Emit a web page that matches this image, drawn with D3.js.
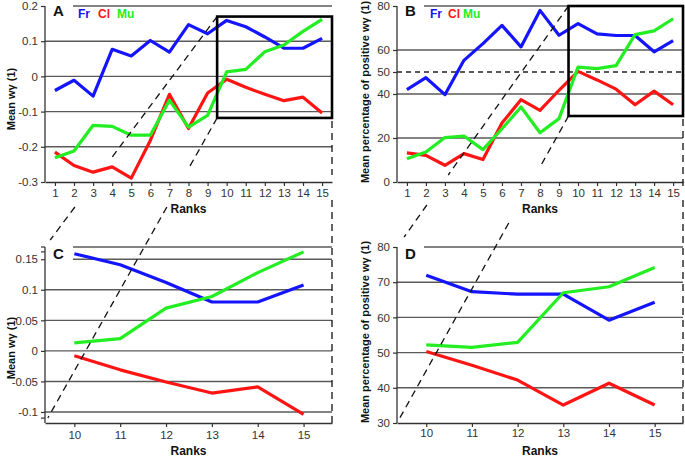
<!DOCTYPE html>
<html><head><meta charset="utf-8">
<script src="https://cdn.jsdelivr.net/npm/d3@7"></script>
<style>
body{margin:0;background:#fff}
text{font-family:"Liberation Sans",Arial,Helvetica,sans-serif}
</style>
</head><body>
<svg id="chart" width="685" height="459"></svg>
<script>
// ---------- data ----------
const ranks = [1,2,3,4,5,6,7,8,9,10,11,12,13,14,15];
const zoomFrom = 10;
const seriesNames = ["Fr","Cl","Mu"];
const seriesColors = ["#1414ff","#ff1414","#22ee22"];

const meanFr = [-0.040,-0.011,-0.056,0.077,0.058,0.102,0.069,0.147,0.121,0.159,0.141,0.112,0.080,0.080,0.108];
const meanCl = [-0.215,-0.253,-0.272,-0.257,-0.289,-0.182,-0.051,-0.148,-0.047,-0.008,-0.031,-0.051,-0.069,-0.059,-0.104];
const meanMu = [-0.231,-0.212,-0.139,-0.142,-0.167,-0.167,-0.068,-0.144,-0.111,0.013,0.020,0.070,0.089,0.128,0.162];

const pctFr = [42.0,47.4,39.7,55.3,62.9,71.2,61.4,78.0,66.7,72.0,67.3,66.6,66.6,59.2,64.3];
const pctCl = [13.2,12.1,7.6,12.9,10.2,26.8,37.4,32.6,41.7,50.3,46.4,42.2,35.1,41.3,35.1];
const pctMu = [10.6,13.6,20.2,20.9,14.7,24.2,34.1,22.4,28.8,52.2,51.5,52.9,67.0,68.7,74.2];

const ticksA = [-0.3,-0.2,-0.1,0,0.1,0.2];
const gridA  = [-0.2,-0.1,0,0.1];
const ticksB = [0,20,40,50,60,80];
const gridB  = [20,40,60];
const dashB  = [50];
const ticksC = [-0.1,-0.05,0,0.05,0.1,0.15];
const gridC  = [-0.1,-0.05,0,0.05,0.1];
const ticksD = [30,40,50,60,70,80];
const gridD  = [40,50,60,70];
const zoomRanks = ranks.filter(r => r >= zoomFrom);

const titleMean = "Mean wγ (1)";
const titlePct = "Mean percentage of positive wγ (1)";

// ---------- layout ----------
const svg = d3.select("#chart");
const FONT = '"Liberation Sans",Arial,Helvetica,sans-serif';

function panel(cfg){
  const g = svg.append("g");
  const x = d3.scaleLinear().domain(cfg.xDomain).range(cfg.xRange);
  const y = d3.scaleLinear().domain(cfg.yDomain).range(cfg.yRange);
  const [x0,x1] = cfg.xRange, [yb,yt] = cfg.yRange;

  g.selectAll(".grid").data(cfg.grid).join("line")
    .attr("x1",x0).attr("x2",x1).attr("y1",d=>y(d)).attr("y2",d=>y(d))
    .attr("stroke","#5a5a5a").attr("stroke-width",1.4);
  g.selectAll(".dgrid").data(cfg.dashGrid||[]).join("line")
    .attr("x1",x0).attr("x2",x1).attr("y1",d=>y(d)).attr("y2",d=>y(d))
    .attr("stroke","#222").attr("stroke-width",1.3).attr("stroke-dasharray","5,4");
  g.append("line").attr("x1",cfg.topLineStart).attr("x2",x1)
    .attr("y1",yt).attr("y2",yt).attr("stroke","#5a5a5a").attr("stroke-width",1.4);
  (cfg.extraTopLines||[]).forEach(v=>{
    g.append("line").attr("x1",cfg.topLineStart).attr("x2",x1)
      .attr("y1",y(v)).attr("y2",y(v)).attr("stroke","#5a5a5a").attr("stroke-width",1.4);
  });

  const ax = d3.axisLeft(y).tickValues(cfg.yTicks).tickSize(4).tickSizeOuter(0).tickPadding(3)
    .tickFormat(d=>String(d));
  const ya = g.append("g").attr("transform",`translate(${x0},0)`).call(ax);
  const bx = d3.axisBottom(x).tickValues(cfg.xTicks).tickSize(4).tickSizeOuter(0).tickPadding(cfg.xPad)
    .tickFormat(d=>String(d));
  const xa = g.append("g").attr("transform",`translate(0,${yb})`).call(bx);
  [ya,xa].forEach(a=>{
    a.select(".domain").attr("stroke","#333").attr("stroke-width",1.3);
    a.selectAll(".tick line").attr("stroke","#333").attr("stroke-width",1.2);
    a.selectAll("text").attr("fill","#333").style("font-family",FONT).style("font-size","11.5px");
  });
  ya.select(".domain").attr("d",`M0,${yb}V${yt}`);
  (cfg.extraTicks||[]).forEach(v=>{
    g.append("line").attr("x1",x0-4).attr("x2",x0).attr("y1",y(v)).attr("y2",y(v))
      .attr("stroke","#333").attr("stroke-width",1.2);
  });

  const line = d3.line().x(d=>x(d[0])).y(d=>y(d[1]));
  cfg.series.forEach((s,i)=>{
    const pts = cfg.xs.map((r,j)=>[r,s[j]]);
    g.append("path").attr("d",line(pts)).attr("fill","none")
      .attr("stroke",seriesColors[i]).attr("stroke-width",3.2)
      .attr("stroke-linejoin","round").attr("stroke-linecap","butt");
  });

  g.append("text").attr("x",x0+8).attr("y",yt+cfg.letterDy).text(cfg.letter)
    .style("font-family",FONT).style("font-size","15px").style("font-weight","bold").attr("fill","#111");
  if(cfg.legend){
    seriesNames.forEach((n,i)=>{
      g.append("text").attr("x",x0+cfg.legendX[i]).attr("y",yt+12).text(n)
        .style("font-family",FONT).style("font-size","12px").style("font-weight","bold")
        .attr("fill",seriesColors[i]);
    });
  }
  g.append("text").attr("text-anchor","middle")
    .attr("transform",`translate(${(x0+x1)/2},${yb+cfg.ranksDy})`).text("Ranks")
    .style("font-family",FONT).style("font-size","12px").style("font-weight","bold").attr("fill","#111");
  g.append("text").attr("text-anchor","middle")
    .attr("transform",`translate(${cfg.titleX},${cfg.titleY}) rotate(-90)`).text(cfg.title)
    .style("font-family",FONT).style("font-size","11px").style("font-weight","bold").attr("fill","#111");
  return {x,y};
}

const A = panel({xDomain:[0.48,15.52], xRange:[45,332], yDomain:[-0.3,0.2], yRange:[182,6],
  grid:gridA, yTicks:ticksA, xTicks:ranks, xs:ranks, series:[meanFr,meanCl,meanMu],
  topLineStart:73, letter:"A", letterDy:10, legend:true, legendX:[33,53,72], xPad:3,
  ranksDy:31, title:titleMean, titleX:15, titleY:99});
const B = panel({xDomain:[0.48,15.52], xRange:[397,683], yDomain:[0,80], yRange:[182,6],
  grid:gridB, dashGrid:dashB, yTicks:ticksB, xTicks:ranks, xs:ranks, series:[pctFr,pctCl,pctMu],
  topLineStart:424, letter:"B", letterDy:10, legend:true, legendX:[33,51,66], xPad:3,
  ranksDy:31, title:titlePct, titleX:369, titleY:92});
const slice = arr => arr.slice(ranks.indexOf(zoomFrom));
const C = panel({xDomain:[9.36,15.62], xRange:[45,332], yDomain:[-0.118,0.17], yRange:[423,247],
  grid:gridC, yTicks:ticksC, xTicks:zoomRanks, xs:zoomRanks,
  series:[slice(meanFr),slice(meanCl),slice(meanMu)], extraTopLines:[0.15], extraTicks:[0.17,0.162,-0.11],
  topLineStart:73, letter:"C", letterDy:12, legend:false, xPad:4,
  ranksDy:32, title:titleMean, titleX:15, titleY:348});
const D = panel({xDomain:[9.36,15.62], xRange:[397,683], yDomain:[30,80], yRange:[423,247],
  grid:gridD, yTicks:ticksD, xTicks:zoomRanks, xs:zoomRanks,
  series:[slice(pctFr),slice(pctCl),slice(pctMu)],
  topLineStart:424, letter:"D", letterDy:12, legend:false, xPad:2,
  ranksDy:32, title:titlePct, titleX:369, titleY:332});

// ---------- zoom boxes and connectors ----------
function zoomBox(P, Z, yLo, yHi, seg1, seg2, vseg){
  const bx0 = P.x(9.5), bx1 = P.x.range()[1];
  const by0 = P.y(yHi), by1 = P.y(yLo);
  const zx0 = Z.x.range()[0], zyTop = Z.y.range()[1], zyBot = Z.y.range()[0];
  const dash = g => g.attr("stroke","#111").attr("stroke-width",1.3).attr("stroke-dasharray","7,5").attr("fill","none");
  const pieces = (p0,p1,wins) => wins.forEach(([ya,yb])=>{
    const t = yy => (yy-p0[1])/(p1[1]-p0[1]);
    const xa = p0[0]+(p1[0]-p0[0])*t(ya), xb = p0[0]+(p1[0]-p0[0])*t(yb);
    svg.append("line").attr("x1",xa).attr("y1",ya).attr("x2",xb).attr("y2",yb).call(dash);
  });
  pieces([bx0,by0],[zx0,zyTop],seg1);
  pieces([bx0,by1],[zx0,zyBot],seg2);
  vseg.forEach(([ya,yb])=>{
    svg.append("line").attr("x1",bx1).attr("x2",bx1).attr("y1",ya).attr("y2",yb).call(dash);
  });
  svg.append("rect").attr("x",bx0).attr("y",by0).attr("width",bx1-bx0).attr("height",by1-by0)
    .attr("fill","none").attr("stroke","#000").attr("stroke-width",2.6);
}
zoomBox(A, C, -0.118, 0.17, [[16.6,158],[207,240]], [[118,170],[207,418]], [[121,175],[200,423]]);
zoomBox(B, D, 30, 80, [[6,175],[205,237]], [[116,167],[223,421]], [[119,186],[200,423]]);
</script>
</body></html>
